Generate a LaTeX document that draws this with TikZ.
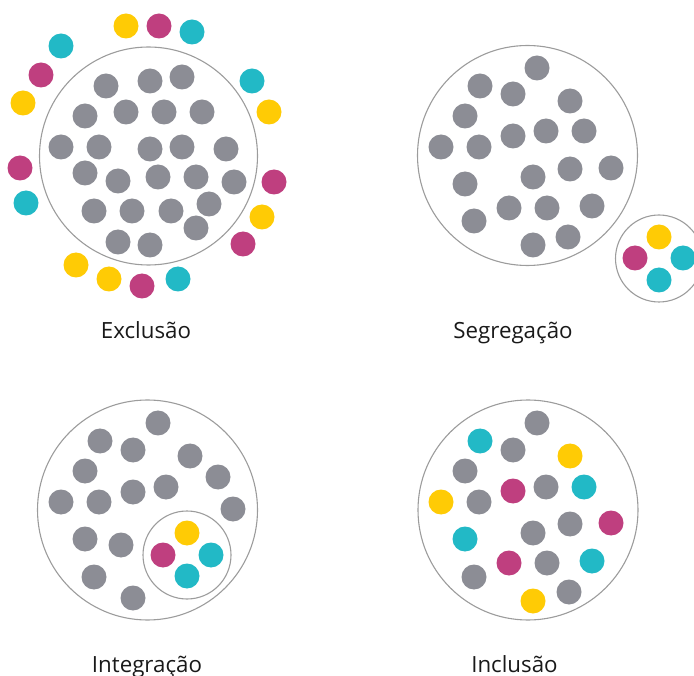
\documentclass[tikz,border=0pt]{standalone}
\usepackage{fontspec}
\setmainfont{Open Sans}
\usepackage{xcolor}
\definecolor{cinza}{HTML}{8C8D95}
\definecolor{magenta}{HTML}{BF3F7F}
\definecolor{amarelo}{HTML}{FFCB05}
\definecolor{ciano}{HTML}{22B9C6}
\definecolor{borda}{HTML}{9C9C9C}
\begin{document}
\begin{tikzpicture}[x=1pt,y=-1pt,
    grupo/.style={draw=borda,line width=1.1pt},
    rotulo/.style={anchor=base,font=\fontsize{22.3}{26}\selectfont,text=black!90}]
    \useasboundingbox (0,0) rectangle (694,676);
    \clip (0,0) rectangle (694,676);
    % Exclusao
    \draw[grupo] (148.5,156) circle [radius=109pt];
    \foreach \x/\y in {106/86,150/81,182/77,85/116,126/112,164/112,202/112,
        61/147,99/147,150/149,182/147,226/149,85/173,118/181,158/177,196/177,
        234/182,209/204,94/211,132/211,171/211,196/228,118/242,150/245}
        \fill[cinza] (\x,\y) circle [radius=12.5pt];
    \foreach \x/\y in {126/26,23/103,269/112,262/217,76/265,109/279}
        \fill[amarelo] (\x,\y) circle [radius=12.5pt];
    \foreach \x/\y in {159/26,41/75,20/168,274/182,243/244,142/286}
        \fill[magenta] (\x,\y) circle [radius=12.5pt];
    \foreach \x/\y in {192/32,61/46,252/81,26/203,178/279}
        \fill[ciano] (\x,\y) circle [radius=12.5pt];
    \node[rotulo] (exclusao) at (146,339) {Exclusão};
    % Segregacao
    \draw[grupo] (527.5,155.5) circle [radius=110pt];
    \foreach \x/\y in {537/68,480/86,513/94,570/101,465/116,513/136,546/131,
        584/131,441/147,479/147,570/169,611/168,465/184,533/177,509/208,
        547/208,592/206,474/221,568/237,533/245}
        \fill[cinza] (\x,\y) circle [radius=12.5pt];
    \draw[grupo] (659,258.5) circle [radius=43.5pt];
    \fill[amarelo] (659,237) circle [radius=12.5pt];
    \fill[magenta] (635,258) circle [radius=12.5pt];
    \fill[ciano] (683,258) circle [radius=12.5pt];
    \fill[ciano] (659,280) circle [radius=12.5pt];
    \node[rotulo] (segregacao) at (513,339) {Segregação};
    % Integracao
    \draw[grupo] (147.5,510) circle [radius=110pt];
    \foreach \x/\y in {158/423,100/441,133/450,190/456,85/471,218/477,133/492,
        166/487,61/502,99/502,233/509,85/539,121/545,94/577,133/598}
        \fill[cinza] (\x,\y) circle [radius=12.5pt];
    \draw[grupo] (187,555) circle [radius=44pt];
    \fill[amarelo] (187,533) circle [radius=12.5pt];
    \fill[magenta] (163,555) circle [radius=12.5pt];
    \fill[ciano] (211,555) circle [radius=12.5pt];
    \fill[ciano] (187,576) circle [radius=12.5pt];
    \node[rotulo] (integracao) at (147,672) {Integração};
    % Inclusao
    \draw[grupo] (528,510) circle [radius=110pt];
    \foreach \x/\y in {537/423,513/450,465/471,546/487,479/502,570/524,
        533/533,547/563,474/577,569/592}
        \fill[cinza] (\x,\y) circle [radius=12.5pt];
    \foreach \x/\y in {570/456,441/502,533/601}
        \fill[amarelo] (\x,\y) circle [radius=12.5pt];
    \foreach \x/\y in {513/491,611/523,509/563}
        \fill[magenta] (\x,\y) circle [radius=12.5pt];
    \foreach \x/\y in {480/441,584/487,465/539,592/561}
        \fill[ciano] (\x,\y) circle [radius=12.5pt];
    \node[rotulo] (inclusao) at (514.5,672) {Inclusão};
\end{tikzpicture}
\end{document}
